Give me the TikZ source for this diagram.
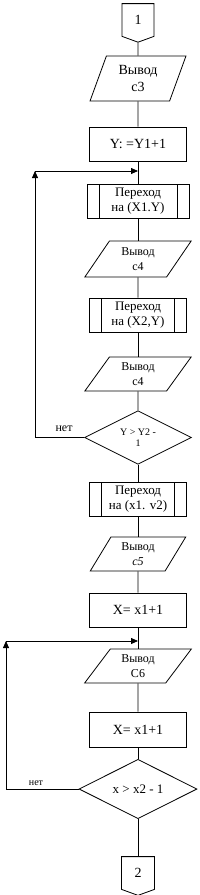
\documentclass[tikz,border=0pt]{standalone}
\usepackage{fontspec}
\setmainfont{Liberation Serif}
\usetikzlibrary{arrows.meta,positioning,shapes.geometric,shapes.symbols}

\begin{document}
\begin{tikzpicture}[
  x=1pt,y=-1pt,line width=0.8pt,
  io/.style={draw,trapezium,trapezium stretches=true,inner sep=0pt,align=center,
             minimum width=107pt,minimum height=34pt,
             trapezium left angle=58,trapezium right angle=122,
             font=\fontsize{12}{15}\selectfont},
  bx/.style={draw,rectangle,inner sep=0pt,align=center,minimum width=97pt,
             minimum height=34pt,font=\fontsize{14}{17}\selectfont},
  sub/.style={draw,rectangle,inner sep=0pt,align=center,minimum width=97pt,
             minimum height=34pt,font=\fontsize{13}{15}\selectfont,
             path picture={
               \draw ([xshift=12pt]path picture bounding box.north west)
                  -- ([xshift=12pt]path picture bounding box.south west);
               \draw ([xshift=-12pt]path picture bounding box.north east)
                  -- ([xshift=-12pt]path picture bounding box.south east);}},
  dec/.style={draw,diamond,inner sep=0pt,align=center,minimum width=107pt,
             minimum height=45pt,font=\fontsize{10}{11}\selectfont},
  pg/.style={draw,signal,signal to=south,signal pointer angle=140,inner sep=0pt,
             minimum width=32pt,minimum height=34pt,font=\fontsize{14}{17}\selectfont},
  ln/.style={-{Triangle[length=7pt,width=6pt]}}
]
  \useasboundingbox (0,0) rectangle (200,895);

  \node[pg] (c1) at (138,20) {1};
  \node[io,minimum width=96pt,minimum height=45pt,trapezium left angle=69,
        trapezium right angle=111,font=\fontsize{14}{17}\selectfont] (p1) at (138,78.5) {Вывод\\c3};
  \node[bx] (b1) at (138,144) {Y: =Y1+1};
  \node[sub,minimum width=102pt] (s1) at (138,201) {Переход\\на (X1.Y)};
  \node[io,minimum height=36pt] (p2) at (138,259) {Вывод\\c4};
  \node[sub] (s2) at (138,315) {Переход\\на (X2,Y)};
  \node[io] (p3) at (138,374) {Вывод\\c4};
  \node[dec] (d1) at (138,437.5) {Y > Y2 -\\1};
  \node[sub] (s3) at (138,499) {Переход\\на (x1. v2)};
  \node[io,minimum width=96pt,trapezium left angle=61,trapezium right angle=119] (p4) at (138,554) {Вывод\\\textit{c5}};
  \node[bx] (b2) at (138,610) {X= x1+1};
  \node[io,trapezium left angle=56,trapezium right angle=124] (p5) at (138,666) {Вывод\\C6};
  \node[bx,minimum height=35pt] (b3) at (138,729.5) {X= x1+1};
  \node[dec,minimum width=118pt,minimum height=46pt,font=\fontsize{13}{15}\selectfont] (d2) at (138,789) {x > x2 - 1};
  \node[pg,minimum width=33pt] (c2) at (138,873) {2};

  \coordinate (j1) at (138,171);
  \coordinate (l1) at (35,171);
  \coordinate (j2) at (138,641);
  \coordinate (l2) at (6,641);

  \draw (c1) -- (p1);
  \draw (p1) -- (b1);
  \draw (b1) -- (s1);
  \draw (s1) -- (p2);
  \draw (p2) -- (s2);
  \draw (s2) -- (p3);
  \draw (p3) -- (d1);
  \draw (d1) -- (s3);
  \draw (s3) -- (p4);
  \draw (p4) -- (b2);
  \draw (b2) -- (p5);
  \draw (p5) -- (b3);
  \draw (b3) -- (d2);
  \draw (d2) -- (c2);

  % loops back
  \draw[ln] (d1.west) -| (l1);
  \draw[ln] (l1) -- (j1);
  \node[font=\fontsize{12}{14}\selectfont] (n1) at (64,429) {нет};
  \draw[ln] (d2.west) -| (l2);
  \draw[ln] (l2) -- (j2);
  \node[font=\fontsize{10}{12}\selectfont] (n2) at (36,783) {нет};
\end{tikzpicture}
\end{document}
